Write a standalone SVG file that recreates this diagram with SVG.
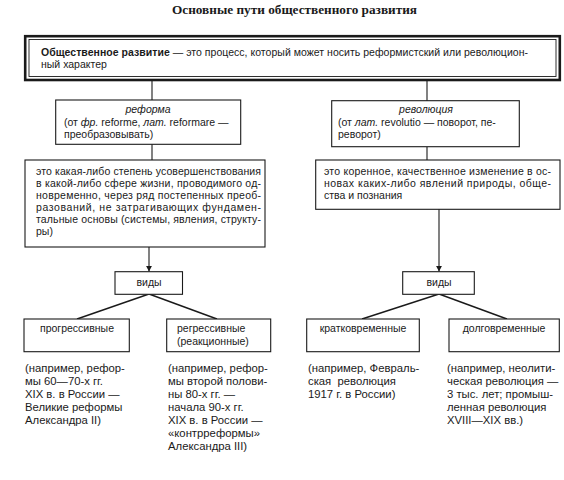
<svg xmlns="http://www.w3.org/2000/svg" width="564" height="480" viewBox="0 0 564 480">
<style>
text{font-family:"Liberation Sans",Arial,sans-serif;fill:#1a1a1a;}
.t{font-size:10.5px;}
.ex{font-size:11.3px;}
.it{font-style:italic;}
.box{fill:#fff;stroke:#1a1a1a;stroke-width:1.1;}
.ln{stroke:#1a1a1a;stroke-width:1.1;fill:none;}
.dg{stroke:#1a1a1a;stroke-width:1.4;fill:none;}
.title{font-family:"Liberation Serif","Times New Roman",serif;font-weight:bold;font-size:13.5px;}
</style>
<defs>
<marker id="arr" viewBox="0 0 6 8" refX="6" refY="4" markerWidth="6" markerHeight="8" markerUnits="userSpaceOnUse" orient="auto">
<path d="M0,0.8 L6,4 L0,7.2 Z" fill="#1a1a1a"/>
</marker>
</defs>
<rect width="564" height="480" fill="#fff"/>
<text class="title" x="172" y="14" textLength="245" lengthAdjust="spacingAndGlyphs">Основные пути общественного развития</text>

<g id="connectors">
<line class="ln" x1="152" y1="81" x2="152" y2="100"/>
<line class="ln" x1="427" y1="81" x2="427" y2="101"/>
<line class="ln" x1="152" y1="144" x2="152" y2="160"/>
<line class="ln" x1="427" y1="147" x2="427" y2="160"/>
<line class="ln" x1="149" y1="247" x2="149" y2="271.5" marker-end="url(#arr)"/>
<line class="ln" x1="439" y1="209" x2="439" y2="271.5" marker-end="url(#arr)"/>
<line class="dg" x1="149" y1="294" x2="77" y2="319"/>
<line class="dg" x1="149" y1="294" x2="217" y2="319"/>
<line class="dg" x1="439" y1="294" x2="362" y2="319"/>
<line class="dg" x1="439" y1="294" x2="507" y2="319"/>
</g>

<g id="root">
<rect x="25.2" y="36.2" width="534.6" height="43.8" fill="#fff" stroke="#1a1a1a" stroke-width="2.6"/>
<rect x="29" y="39.5" width="527" height="37" fill="none" stroke="#1a1a1a" stroke-width="0.9"/>
<text class="t" x="41" y="56" font-size="11" textLength="487" lengthAdjust="spacing"><tspan font-weight="bold">Общественное развитие</tspan> — это процесс, который может носить реформистский или революцион-</text>
<text class="t" x="41" y="68" font-size="11">ный характер</text>
</g>

<g id="reform">
<rect class="box" x="55.7" y="100" width="185" height="44.3"/>
<text class="t it" x="148" y="113" text-anchor="middle">реформа</text>
<text class="t" x="64" y="125.5">(от <tspan class="it">фр.</tspan> reforme, <tspan class="it">лат.</tspan> reformare —</text>
<text class="t" x="64" y="137.5">преобразовывать)</text>
</g>

<g id="revolution">
<rect class="box" x="331.7" y="100.7" width="187.6" height="46"/>
<text class="t it" x="426" y="113" text-anchor="middle">революция</text>
<text class="t" x="338" y="125.5">(от <tspan class="it">лат.</tspan> revolutio — поворот, пе-</text>
<text class="t" x="338" y="137.5">реворот)</text>
</g>

<g id="reform-def">
<rect class="box" x="25" y="160" width="240" height="87"/>
<text class="t" x="36" y="174.5" textLength="225" lengthAdjust="spacing">это какая-либо степень усовершенствования</text>
<text class="t" x="36" y="186.5" textLength="225" lengthAdjust="spacing">в какой-либо сфере жизни, проводимого од-</text>
<text class="t" x="36" y="198.5" textLength="225" lengthAdjust="spacing">новременно, через ряд постепенных преоб-</text>
<text class="t" x="36" y="210.5" textLength="225" lengthAdjust="spacing">разований, не затрагивающих фундамен-</text>
<text class="t" x="36" y="222.5" textLength="225" lengthAdjust="spacing">тальные основы (системы, явления, структу-</text>
<text class="t" x="36" y="235">ры)</text>
</g>

<g id="revolution-def">
<rect class="box" x="315.7" y="160" width="244.3" height="49.3"/>
<text class="t" x="324" y="174.5" textLength="227" lengthAdjust="spacing">это коренное, качественное изменение в ос-</text>
<text class="t" x="324" y="186.5" textLength="227" lengthAdjust="spacing">новах каких-либо явлений природы, обще-</text>
<text class="t" x="324" y="198.5">ства и познания</text>
</g>

<g id="types-reform">
<rect class="box" x="115" y="271.7" width="67.5" height="22.6"/>
<text class="t" x="149" y="286" text-anchor="middle">виды</text>
</g>

<g id="types-revolution">
<rect class="box" x="402.7" y="271.7" width="71.6" height="22.6"/>
<text class="t" x="439" y="286" text-anchor="middle">виды</text>
</g>

<g id="progressive">
<rect class="box" x="24" y="319" width="105.3" height="32.7"/>
<text class="t" x="77" y="332" text-anchor="middle">прогрессивные</text>
<text class="ex" x="25" y="372">(например, рефор-</text>
<text class="ex" x="25" y="385">мы 60—70-х гг.</text>
<text class="ex" x="25" y="398">XIX в. в России —</text>
<text class="ex" x="25" y="411">Великие реформы</text>
<text class="ex" x="25" y="424">Александра II)</text>
</g>

<g id="regressive">
<rect class="box" x="166.7" y="319" width="104" height="32.7"/>
<text class="t" x="177" y="332">регрессивные</text>
<text class="t" x="177" y="344.5">(реакционные)</text>
<text class="ex" x="168" y="372">(например, рефор-</text>
<text class="ex" x="168" y="385">мы второй полови-</text>
<text class="ex" x="168" y="398">ны 80-х гг. —</text>
<text class="ex" x="168" y="411">начала 90-х гг.</text>
<text class="ex" x="168" y="424">XIX в. в России —</text>
<text class="ex" x="168" y="437">«контрреформы»</text>
<text class="ex" x="168" y="450">Александра III)</text>
</g>

<g id="short-term">
<rect class="box" x="306.7" y="319" width="112.6" height="32.7"/>
<text class="t" x="363" y="332" text-anchor="middle">кратковременные</text>
<text class="ex" x="308" y="372">(например, Февраль-</text>
<text class="ex" x="308" y="385" style="white-space:pre">ская  революция</text>
<text class="ex" x="308" y="398">1917 г. в России)</text>
</g>

<g id="long-term">
<rect class="box" x="449" y="319" width="110.3" height="32.7"/>
<text class="t" x="504" y="332" text-anchor="middle">долговременные</text>
<text class="ex" x="447" y="372">(например, неолити-</text>
<text class="ex" x="447" y="385">ческая революция —</text>
<text class="ex" x="447" y="398">3 тыс. лет; промыш-</text>
<text class="ex" x="447" y="411">ленная революция</text>
<text class="ex" x="447" y="424">XVIII—XIX вв.)</text>
</g>
</svg>
